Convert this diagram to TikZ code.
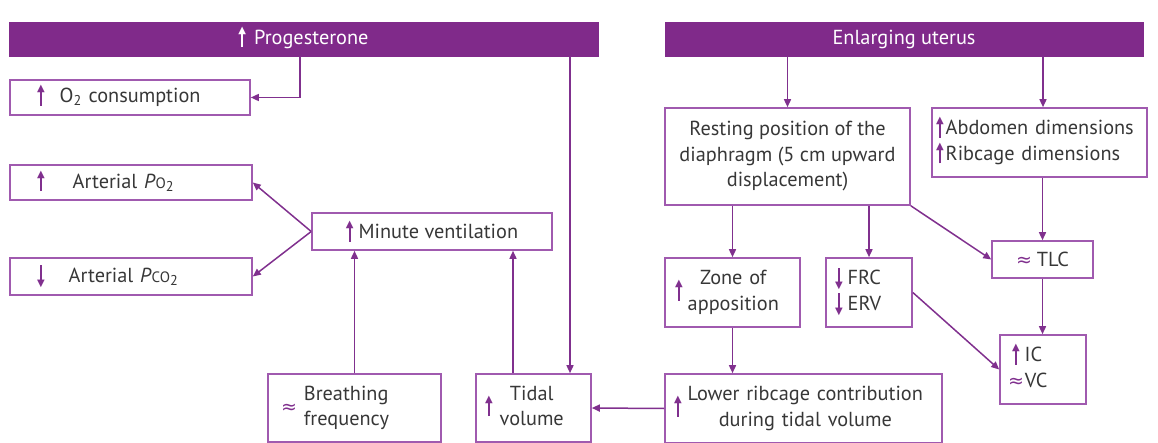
\documentclass[tikz,border=0pt]{standalone}
\usepackage{fontspec}
\setmainfont{PT Sans}
\newfontfamily\symfont{DejaVu Sans}
\usetikzlibrary{arrows.meta}
\definecolor{banner}{RGB}{128,42,138}
\definecolor{boxline}{RGB}{160,90,175}
\definecolor{conline}{RGB}{128,48,142}
\definecolor{txt}{RGB}{55,55,55}
\newcommand{\uparr}{\ooalign{\hfil\raisebox{-3pt}{\rule{1.8pt}{15pt}}\hfil\cr\hfil\raisebox{11pt}{\symfont\fontsize{10}{10}\selectfont\char"25B2}\hfil\cr}}
\newcommand{\dnarr}{\ooalign{\hfil\raisebox{2pt}{\rule{1.8pt}{15pt}}\hfil\cr\hfil\raisebox{-4pt}{\symfont\fontsize{10}{10}\selectfont\char"25BC}\hfil\cr}}
\newcommand{\upa}{{\color{conline}\uparr}}
\newcommand{\dna}{{\color{conline}\dnarr}}
\newcommand{\apx}{{\symfont\color{conline}\fontsize{19}{20}\selectfont\char"2248}}
\begin{document}
\begin{tikzpicture}[x=1pt,y=-1pt,
  font=\fontsize{20.3}{25.5}\selectfont,
  box/.style={draw=boxline, line width=1.6pt, text=txt, inner sep=0pt, rectangle},
  bannerbox/.style={fill=banner, draw=banner, text=white, inner sep=0pt, rectangle},
  conn/.style={draw=conline, line width=1.5pt, -{Triangle[length=8pt,width=7pt]}}]
\useasboundingbox (0,0) rectangle (1158,443);
% banners
\node[bannerbox, minimum width=589pt, minimum height=34pt] (prog) at (303.5,39) {{\color{white}\uparr}\hspace{8pt}Progesterone};
\node[bannerbox, minimum width=478pt, minimum height=34pt] (uter) at (904,39) {Enlarging uterus};
% left boxes
\node[box, minimum height=35pt, inner xsep=27pt, text width=186pt, align=left] (o2) at (130,97.5) {\upa\hspace{15pt}O\textsubscript{2} consumption};
\node[box, minimum height=35pt, inner xsep=27pt, text width=188pt, align=left] (po2) at (131,182.5) {\upa\hspace{28pt}Arterial \textit{P}{\fontsize{15}{16}\selectfont O}\textsubscript{2}};
\node[box, minimum height=37pt, inner xsep=27pt, text width=188pt, align=left] (pco2) at (131,276.5) {\dna\hspace{24pt}Arterial \textit{P}{\fontsize{15}{16}\selectfont CO}\textsubscript{2}};
\node[box, minimum width=240pt, minimum height=37pt] (minv) at (432,231.5) {\upa\hspace{5pt}Minute ventilation};
\node[box, minimum height=68pt, inner xsep=13pt, text width=147pt, align=left] (bf) at (354.5,408) {\apx\hspace{7pt}\begin{tabular}[c]{@{}l@{}}Breathing\\frequency\end{tabular}};
\node[box, minimum height=68pt, inner xsep=9pt, text width=97pt, align=left] (tv) at (533.5,408) {\upa\hspace{7pt}\begin{tabular}[c]{@{}c@{}}Tidal\\volume\end{tabular}};
% right boxes
\node[box, minimum width=245pt, minimum height=97pt, align=center] (rest) at (787.5,156.5) {Resting position of the\\diaphragm (5 cm upward\\displacement)};
\node[box, minimum height=69pt, inner xsep=4pt, text width=207pt, align=left] (abd) at (1039.5,142.5) {\begin{tabular}[c]{@{}l@{}}\upa\hspace{2pt}Abdomen dimensions\\\upa\hspace{2pt}Ribcage dimensions\end{tabular}};
\node[box, minimum height=69pt, inner xsep=10pt, text width=115pt, align=left] (zone) at (732.5,292.5) {\upa\hspace{5pt}\begin{tabular}[c]{@{}c@{}}Zone of\\apposition\end{tabular}};
\node[box, minimum height=69pt, inner xsep=9pt, text width=68pt, align=left] (frc) at (869,292.5) {\begin{tabular}[c]{@{}l@{}}\dna\hspace{5pt}FRC\\\dna\hspace{5pt}ERV\end{tabular}};
\node[box, minimum width=101pt, minimum height=37pt] (tlc) at (1042.5,259.5) {\apx\hspace{5pt}TLC};
\node[box, minimum height=69pt, inner xsep=8pt, text width=70pt, align=left] (icvc) at (1043,369.5) {\begin{tabular}[c]{@{}l@{}}\hspace{4pt}\upa\hspace{5pt}IC\\\apx\hspace{1pt}VC\end{tabular}};
\node[box, minimum height=69pt, inner xsep=9pt, text width=259pt, align=left] (lrc) at (803.5,408.5) {\upa\hspace{6pt}\begin{tabular}[c]{@{}c@{}}Lower ribcage contribution\\during tidal volume\end{tabular}};
% helper coordinates
\coordinate (px1) at (300,0);
\coordinate (px2) at (570,0);
\coordinate (tvx) at (513,0);
\coordinate (abx) at (1043,0);
% connectors
\draw[conn] (prog.south -| px1) |- (o2.east);
\draw[conn] (prog.south -| px2) -- (tv.north -| px2);
\draw[conn] (minv.west) -- (po2.east);
\draw[conn] (minv.west) -- (pco2.east);
\draw[conn] (bf.north) -- (bf.north |- minv.south);
\draw[conn] (tv.north -| tvx) -- (minv.south -| tvx);
\draw[conn] (uter.south -| rest.north) -- (rest.north);
\draw[conn] (uter.south -| abx) -- (abd.north -| abx);
\draw[conn] (rest.south -| zone.north) -- (zone.north);
\draw[conn] (rest.south -| frc.north) -- (frc.north);
\draw[conn] (rest.south east) -- (tlc.west);
\draw[conn] (abd.south -| tlc.north) -- (tlc.north);
\draw[conn] (tlc.south) -- (tlc.south |- icvc.north);
\draw[conn] (frc.east) -- (icvc.west);
\draw[conn] (zone.south) -- (zone.south |- lrc.north);
\draw[conn] (lrc.west) -- (tv.east);
\end{tikzpicture}
\end{document}
